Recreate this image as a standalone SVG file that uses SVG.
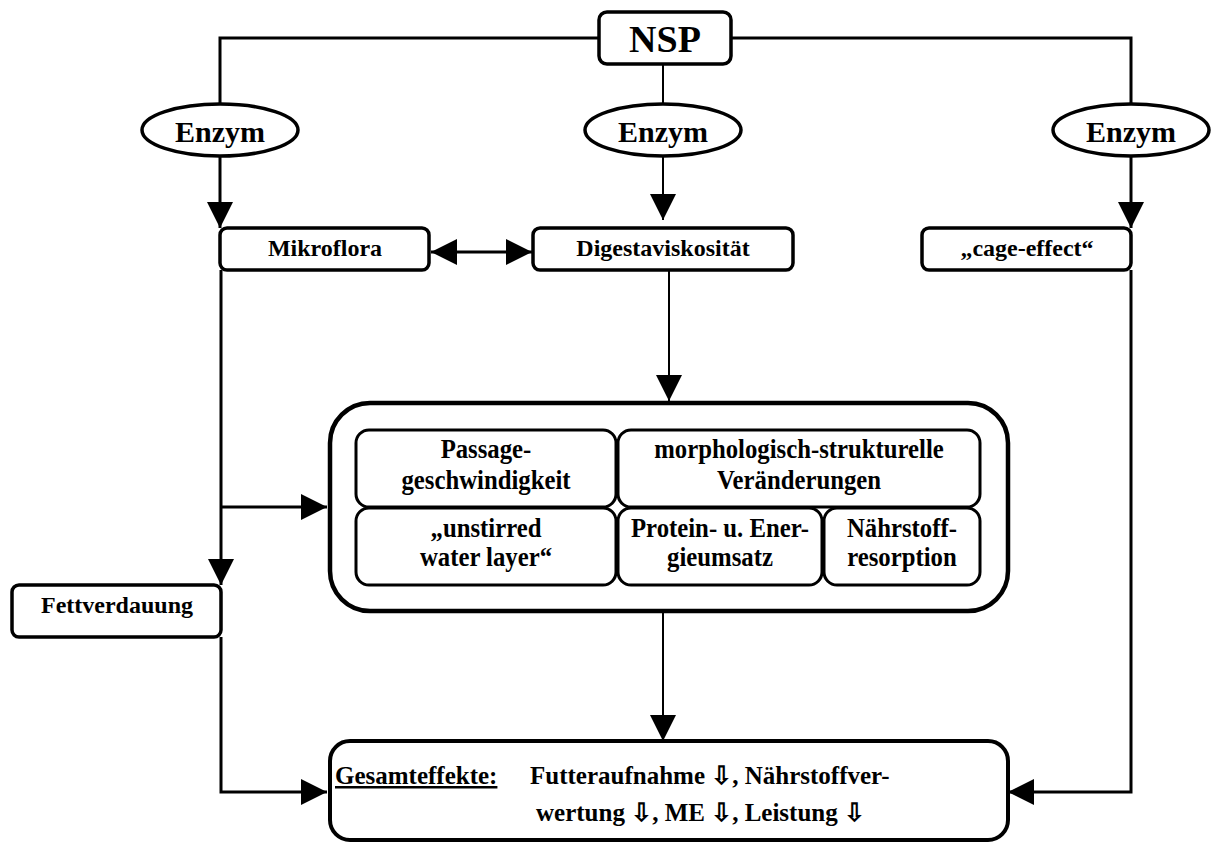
<svg xmlns="http://www.w3.org/2000/svg" width="1212" height="843" viewBox="0 0 1212 843">
  <style>
    .box { fill: #fff; stroke: #000; stroke-width: 3.5; }
    .inner { fill: #fff; stroke: #000; stroke-width: 3; }
    .ell { fill: #fff; stroke: #000; stroke-width: 3.5; }
    .ln { fill: none; stroke: #000; stroke-width: 3; }
    .thin { fill: none; stroke: #000; stroke-width: 2; }
    text { font-family: "Liberation Serif", "Times New Roman", serif; font-weight: bold; fill: #000; }
    .lbl { font-size: 24px; text-anchor: middle; }
    .lbl2 { font-size: 27.5px; text-anchor: middle; }
    .enz { font-size: 30px; text-anchor: middle; }
    .nsp { font-size: 38px; text-anchor: middle; }
    .ges { font-size: 25px; }
  </style>
  <defs>
    <marker id="ah" viewBox="0 0 26 26" markerWidth="26" markerHeight="26" refX="26" refY="13" orient="auto-start-reverse" markerUnits="userSpaceOnUse">
      <path d="M0,0 L26,13 L0,26 Z" fill="#000"/>
    </marker>
  </defs>
  <rect width="1212" height="843" fill="#fff"/>

  <g id="connectors">
    <path class="ln" d="M599,38 H220 V104"/>
    <path class="ln" d="M220,156 V228" marker-end="url(#ah)"/>
    <path class="thin" d="M663,64 V104"/>
    <path class="thin" d="M663,156 V220" marker-end="url(#ah)"/>
    <path class="ln" d="M731,38 H1131 V104"/>
    <path class="ln" d="M1131,156 V228" marker-end="url(#ah)"/>
    <path class="ln" d="M431,252 H532" marker-start="url(#ah)" marker-end="url(#ah)"/>
    <path class="thin" d="M669,271 V401" marker-end="url(#ah)"/>
    <path class="ln" d="M221,270 V585" marker-end="url(#ah)"/>
    <path class="ln" d="M221,507 H327" marker-end="url(#ah)"/>
    <path class="ln" d="M221,637 V792 H327" marker-end="url(#ah)"/>
    <path class="thin" d="M663,612 V741" marker-end="url(#ah)"/>
    <path class="ln" d="M1131,270 V792 H1008" marker-end="url(#ah)"/>
  </g>

  <g id="nsp">
    <rect class="box" x="599" y="12" width="132" height="52" rx="8"/>
    <text class="nsp" x="665" y="52">NSP</text>
  </g>

  <g id="enzym-left">
    <ellipse class="ell" cx="220" cy="130" rx="78" ry="26"/>
    <text class="enz" x="220" y="142">Enzym</text>
  </g>
  <g id="enzym-mid">
    <ellipse class="ell" cx="663" cy="130" rx="78" ry="26"/>
    <text class="enz" x="663" y="142">Enzym</text>
  </g>
  <g id="enzym-right">
    <ellipse class="ell" cx="1131" cy="130" rx="78" ry="26"/>
    <text class="enz" x="1131" y="142">Enzym</text>
  </g>

  <g id="mikroflora">
    <rect class="box" x="220" y="228" width="209" height="42" rx="7"/>
    <text class="lbl" x="325" y="256">Mikroflora</text>
  </g>
  <g id="digestaviskositaet">
    <rect class="box" x="533" y="228" width="260" height="42" rx="7"/>
    <text class="lbl" x="663" y="256">Digestaviskosität</text>
  </g>
  <g id="cage-effect">
    <rect class="box" x="922" y="228" width="209" height="42" rx="7"/>
    <text class="lbl" x="1027" y="256">„cage-effect“</text>
  </g>

  <g id="effects-group">
    <rect class="box" x="330" y="403" width="678" height="208" rx="40" style="stroke-width:4.5"/>
    <g id="passage">
      <rect class="inner" x="356" y="430" width="260" height="77" rx="13"/>
      <text class="lbl2" transform="scale(0.9 1)" x="540" y="458">Passage-</text>
      <text class="lbl2" transform="scale(0.9 1)" x="540" y="489">geschwindigkeit</text>
    </g>
    <g id="morphologisch">
      <rect class="inner" x="618" y="430" width="362" height="77" rx="13"/>
      <text class="lbl2" transform="scale(0.9 1)" x="887.8" y="458">morphologisch-strukturelle</text>
      <text class="lbl2" transform="scale(0.9 1)" x="887.8" y="489">Veränderungen</text>
    </g>
    <g id="unstirred">
      <rect class="inner" x="356" y="508" width="260" height="77" rx="13"/>
      <text class="lbl2" transform="scale(0.9 1)" x="540" y="537">„unstirred</text>
      <text class="lbl2" transform="scale(0.9 1)" x="540" y="566">water layer“</text>
    </g>
    <g id="protein">
      <rect class="inner" x="618" y="508" width="204" height="77" rx="13"/>
      <text class="lbl2" transform="scale(0.9 1)" x="800" y="537">Protein- u. Ener-</text>
      <text class="lbl2" transform="scale(0.9 1)" x="800" y="566">gieumsatz</text>
    </g>
    <g id="naehrstoff">
      <rect class="inner" x="824" y="508" width="156" height="77" rx="13"/>
      <text class="lbl2" transform="scale(0.9 1)" x="1002.2" y="537">Nährstoff-</text>
      <text class="lbl2" transform="scale(0.9 1)" x="1002.2" y="566">resorption</text>
    </g>
  </g>

  <g id="fettverdauung">
    <rect class="box" x="12" y="585" width="209" height="52" rx="7"/>
    <text class="lbl" x="117" y="613">Fettverdauung</text>
  </g>

  <g id="gesamteffekte">
    <rect class="box" x="330" y="741" width="678" height="99" rx="20" style="stroke-width:4"/>
    <text class="ges" x="335" y="784" text-decoration="underline">Gesamteffekte:</text>
    <text class="ges" x="530" y="784">Futteraufnahme ⇩, Nährstoffver-</text>
    <text class="ges" x="536" y="821">wertung ⇩, ME ⇩, Leistung ⇩</text>
  </g>
</svg>
